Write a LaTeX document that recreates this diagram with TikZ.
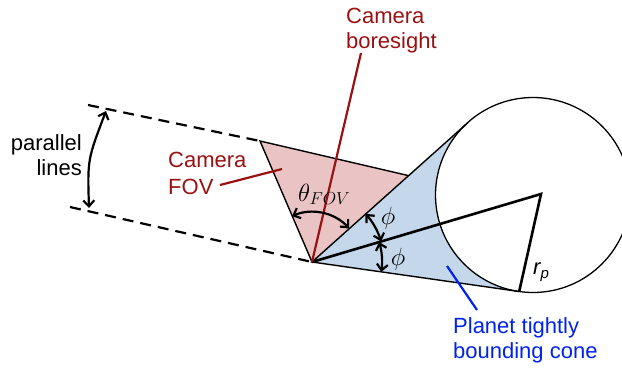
\documentclass[tikz,border=0pt]{standalone}
\usepackage{fontspec}
\setmainfont{Liberation Sans}
\usetikzlibrary{calc,arrows.meta}
\definecolor{dred}{RGB}{155,17,17}
\definecolor{pinkfill}{RGB}{234,196,196}
\definecolor{bluefill}{RGB}{197,215,235}
\definecolor{lblue}{RGB}{0,34,238}
\begin{document}
\begin{tikzpicture}[x=1pt,y=-1pt,
  lbl/.style={inner sep=0pt, font=\fontsize{22}{25}\selectfont},
  edge/.style={line width=1.4pt, line join=miter},
  thickln/.style={line width=2.6pt, line join=miter},
  dashln/.style={line width=2.2pt, dash pattern=on 11pt off 7pt},
  arr/.style={line width=2.2pt, {Straight Barb[length=6pt,width=11pt]}-{Straight Barb[length=6pt,width=11pt]}},
  pointer/.style={line width=2.2pt},
]
\useasboundingbox (0,0) rectangle (622,370);
\clip (0,0) rectangle (622,370);
% key points
\coordinate (apex) at (312,262);
\coordinate (fovL) at (260,141);
\coordinate (pc) at (533,195);
\coordinate (ctr) at (541,194);
\coordinate (T1) at (467.8,122.7);
\coordinate (T2) at (519.2,291.5);
\coordinate (P3) at ($(apex)!0.62!(T1)$);
\coordinate (dashA) at (88,105);
\coordinate (dashB) at (70,207);
\coordinate (bore) at (361,53);
% dashed parallel lines
\draw[dashln] (dashA) -- (fovL);
\draw[dashln] (dashB) -- (apex);
% cone
\fill[bluefill] (apex) -- (T1) -- (T2) -- cycle;
\draw[line width=1.3pt, fill=white] (pc) circle[radius=97.5];
% FOV triangle
\fill[pinkfill] (apex) -- (fovL) -- (P3) -- cycle;
\draw[edge] (apex) -- (fovL) -- (P3);
\draw[edge] (T1) -- (apex) -- (T2);
% centre and radius
\draw[thickln] (apex) -- (ctr) -- (T2);
% boresight
\draw[dred, line width=2.2pt] (apex) -- (bore);
% theta arc
\draw[arr] ($(apex)+(-113.6:50)$) arc[start angle=-113.6, end angle=-42.0, radius=50];
% phi arcs
\draw[arr] ($(apex)+(-42.0:72)$) arc[start angle=-42.0, end angle=-16.6, radius=72];
\draw[arr] ($(apex)+(-16.6:70)$) arc[start angle=-16.6, end angle=8.1, radius=70];
% parallel lines arrow
\coordinate (parT) at (106,111);
\coordinate (parB) at (89,208);
\draw[arr] (parT) .. controls (87.5,159.5) .. (parB);
% labels
\node[lbl, anchor=base east] (partxt) at (82,150) {\begin{tabular}[t]{@{}r@{}}parallel\\lines\end{tabular}};
\node[lbl, text=dred, anchor=base west, font=\fontsize{22}{27}\selectfont] (fovtxt) at (168,167) {\begin{tabular}[t]{@{}l@{}}Camera\\FOV\end{tabular}};
\node[lbl, text=dred, anchor=base west] (boretxt) at (346,23) {\begin{tabular}[t]{@{}l@{}}Camera\\boresight\end{tabular}};
\node[lbl, text=lblue, anchor=base west] (conetxt) at (453,333) {\begin{tabular}[t]{@{}l@{}}Planet tightly\\bounding cone\end{tabular}};
\node[inner sep=0pt, anchor=base west, font=\fontsize{25}{28}\selectfont] (theta) at (298,201) {$\theta_{FOV}$};
\node[inner sep=0pt, anchor=base, font=\fontsize{26}{30}\selectfont] (phiA) at (388,224) {$\phi$};
\node[inner sep=0pt, anchor=base, font=\fontsize{26}{30}\selectfont] (phiB) at (398,265) {$\phi$};
\node[inner sep=0pt, anchor=base west, font=\fontsize{22}{26}\selectfont] (rp) at (533,274) {\itshape r\raisebox{-4pt}{\fontsize{15}{17}\selectfont p}};
% pointers
\coordinate (fovA) at (220,185);
\coordinate (fovB) at (282,169);
\draw[dred, pointer] (fovA) -- (fovB);
\coordinate (coneA) at (447,266);
\coordinate (coneB) at (477,310);
\draw[lblue, pointer] (coneA) -- (coneB);
\end{tikzpicture}
\end{document}
